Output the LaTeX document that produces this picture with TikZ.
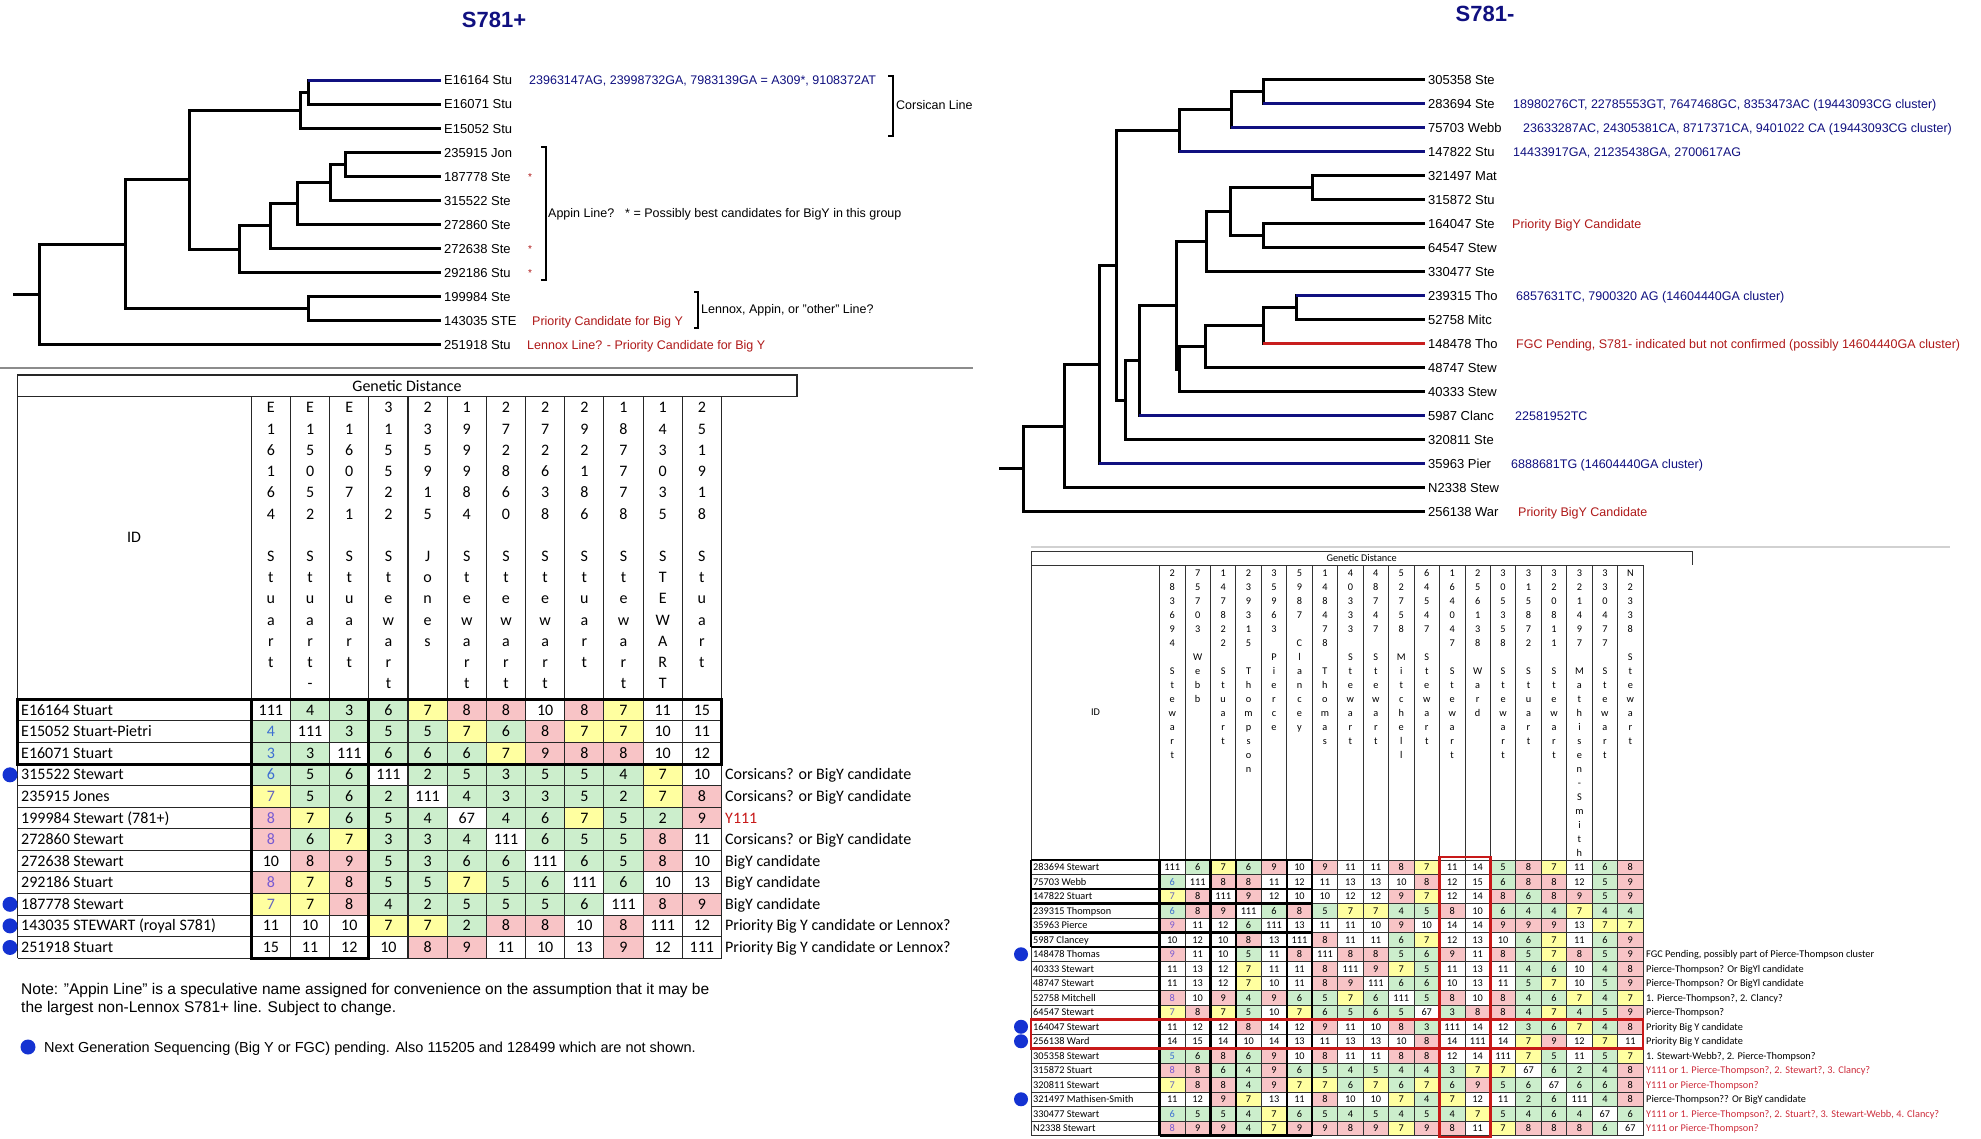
\documentclass[tikz,border=0pt]{standalone}
\usepackage{fontspec}
\setmainfont{Liberation Sans}
\newfontfamily\carl{Carlito}

\definecolor{navy}{RGB}{16,16,128}
\definecolor{treered}{RGB}{175,25,25}
\definecolor{branchred}{RGB}{200,30,30}
\definecolor{cw}{RGB}{255,255,255}
\definecolor{cg}{RGB}{204,238,204}
\definecolor{cy}{RGB}{255,255,160}
\definecolor{cp}{RGB}{248,196,198}
\definecolor{tcw}{RGB}{0,0,0}
\definecolor{tcg}{RGB}{60,110,210}
\definecolor{tcy}{RGB}{100,100,190}
\definecolor{tcp}{RGB}{120,90,210}
\definecolor{dotblue}{RGB}{20,50,210}
\definecolor{boxred}{RGB}{200,25,25}
\definecolor{notered}{RGB}{205,45,60}

\tikzset{
  br/.style={line width=3pt},
  brblue/.style={line width=3pt, draw=navy},
  brred/.style={line width=3pt, draw=branchred},
  leaf/.style={anchor=west, inner xsep=3pt, inner ysep=1pt, text height=9.3pt, text depth=0pt, font=\fontsize{13}{15}\selectfont},
  ann/.style={anchor=base west, inner sep=0pt, font=\fontsize{12.5}{15}\selectfont},
  titl/.style={font=\bfseries\fontsize{22}{26}\selectfont, text=navy},
  brk/.style={line width=1.3pt},
  ltxt/.style={anchor=base, inner sep=0pt, font=\carl\fontsize{16}{19}\selectfont},
  rtxt/.style={anchor=base, inner sep=0pt, font=\carl\fontsize{10.3}{12}\selectfont},
  grid/.style={line width=1.1pt, draw=black!85},
  rgrid/.style={line width=0.8pt, draw=black!80},
  thickl/.style={line width=3pt},
  thickr/.style={line width=2.4pt},
  redbox/.style={line width=2.4pt, draw=boxred},
  bdot/.style={circle, fill=dotblue, inner sep=0pt, minimum size=15pt},
  notetxt/.style={anchor=base west, inner sep=0pt, font=\fontsize{15.5}{18}\selectfont},
}

% left table row: #1 row, #2 label, #3 values
\newcommand\LRow[3]{%
  \node[ltxt,anchor=base west] at (21,{699.3+21.58*(#1+0.5)+5.1}) {#2};
  \foreach \v/\c [count=\j from 0] in {#3} {%
    \fill[\c] ({251.3+39.18*\j},{699.3+21.58*#1}) rectangle ++(39.18,21.58);
    \ifnum\j=0\relax\def\tc{t\c}\else\def\tc{black}\fi
    \node[ltxt,text=\tc] at ({251.3+39.18*(\j+0.5)},{699.3+21.58*(#1+0.5)+5.1}) {\v};
  }}
\newcommand\LHead[2]{%
  \foreach \ch [count=\k from 0] in {#2} {%
    \node[ltxt] at ({251.3+39.18*(#1+0.5)},{413+21.2*\k}) {\ch};
  }}
\newcommand\RRow[3]{%
  \node[rtxt,anchor=base west] at (1033,{867.25+14.5*#1+3.3}) {#2};
  \foreach \v/\c [count=\j from 0] in {#3} {%
    \fill[\c] ({1159.5+25.45*\j},{860+14.5*#1}) rectangle ++(25.45,14.5);
    \ifnum\j=0\relax\def\tc{t\c}\else\def\tc{black}\fi
    \node[rtxt,text=\tc] at ({1159.5+25.45*(\j+0.5)},{867.25+14.5*#1+3.3}) {\v};
  }}
\newcommand\RHead[2]{%
  \foreach \ch [count=\k from 0] in {#2} {%
    \node[rtxt] at ({1159.5+25.45*(#1+0.5)},{576+14*\k}) {\ch};
  }}

\begin{document}
\begin{tikzpicture}[x=1pt,y=-1pt]
\useasboundingbox[fill=white] (0,0) rectangle (1981,1139);

% ================= titles =================
\node[titl] (t1) at (494,20) {S781+};
\node[titl] (t2) at (1485,14) {S781-};

% ================= left tree =================
\node[leaf] (LL0) at (441,80.3) {E16164 Stu};
\node[leaf] (LL1) at (441,104.33) {E16071 Stu};
\node[leaf] (LL2) at (441,128.36) {E15052 Stu};
\node[leaf] (LL3) at (441,152.39) {235915 Jon};
\node[leaf] (LL4) at (441,176.42) {187778 Ste};
\node[leaf] (LL5) at (441,200.45) {315522 Ste};
\node[leaf] (LL6) at (441,224.48) {272860 Ste};
\node[leaf] (LL7) at (441,248.51) {272638 Ste};
\node[leaf] (LL8) at (441,272.54) {292186 Stu};
\node[leaf] (LL9) at (441,296.57) {199984 Ste};
\node[leaf] (LL10) at (441,320.6) {143035 STE};
\node[leaf] (LL11) at (441,344.63) {251918 Stu};

\coordinate (la) at (308,92.3);
\coordinate (lb) at (300,110.3);
\coordinate (lc) at (345,164.4);
\coordinate (ld) at (330,182.4);
\coordinate (le) at (297,203.4);
\coordinate (lf) at (270,226);
\coordinate (lg) at (239,249.3);
\coordinate (lh) at (189,179.8);
\coordinate (li) at (308,308.6);
\coordinate (lj) at (125,244.2);
\coordinate (lr) at (39,294.4);
\coordinate (l0) at (13,294.4);

\foreach \p/\c in {la/LL0,la/LL1,lb/la,lb/LL2,lc/LL3,lc/LL4,ld/lc,ld/LL5,le/ld,le/LL6,lf/le,lf/LL7,lg/lf,lg/LL8,lh/lb,lh/lg,li/LL9,li/LL10,lj/lh,lj/li,lr/lj,lr/LL11}
  \draw[br] (\p) |- (\c);
\draw[br] (l0) -- (lr);
\draw[brblue] (la |- LL0.west) -- (LL0.west);

\node[ann,text=navy] (n1) at (529,84.8) {23963147AG, 23998732GA, 7983139GA = A309*, 9108372AT};
\node[ann,text=treered] (n2) at (532,325.1) {Priority Candidate for Big Y};
\node[ann,text=treered] (n3) at (527,349.1) {Lennox Line? - Priority Candidate for Big Y};
\foreach \yy/\nm in {176.42/s1,248.51/s2,272.54/s3}
  \node[anchor=base, inner sep=0pt, text=treered, font=\fontsize{10}{12}\selectfont] (\nm) at (530,\yy+4) {*};

\draw[brk] (888,76) -- (893,76) -- (893,136) -- (888,136);
\node[ann] (corsica) at (896,109.5) {Corsican Line};
\draw[brk] (541,147) -- (546,147) -- (546,280) -- (541,280);
\node[ann] (appin) at (548,217.5) {Appin Line?\hspace{11pt}* = Possibly best candidates for BigY in this group};
\draw[brk] (694,292) -- (698,292) -- (698,328) -- (694,328);
\node[ann] (lennox) at (701,313.5) {Lennox, Appin, or "other" Line?};

\draw[line width=2pt, draw=black!45] (0,368) -- (973,368);

% ================= right tree =================
\node[leaf] (RL0) at (1425,79.7) {305358 Ste};
\node[leaf] (RL1) at (1425,103.7) {283694 Ste};
\node[leaf] (RL2) at (1425,127.7) {75703 Webb};
\node[leaf] (RL3) at (1425,151.7) {147822 Stu};
\node[leaf] (RL4) at (1425,175.7) {321497 Mat};
\node[leaf] (RL5) at (1425,199.7) {315872 Stu};
\node[leaf] (RL6) at (1425,223.7) {164047 Ste};
\node[leaf] (RL7) at (1425,247.7) {64547 Stew};
\node[leaf] (RL8) at (1425,271.7) {330477 Ste};
\node[leaf] (RL9) at (1425,295.7) {239315 Tho};
\node[leaf] (RL10) at (1425,319.7) {52758 Mitc};
\node[leaf] (RL11) at (1425,343.7) {148478 Tho};
\node[leaf] (RL12) at (1425,367.7) {48747 Stew};
\node[leaf] (RL13) at (1425,391.7) {40333 Stew};
\node[leaf] (RL14) at (1425,415.7) {5987 Clanc};
\node[leaf] (RL15) at (1425,439.7) {320811 Ste};
\node[leaf] (RL16) at (1425,463.7) {35963 Pier};
\node[leaf] (RL17) at (1425,487.7) {N2338 Stew};
\node[leaf] (RL18) at (1425,511.7) {256138 War};

\coordinate (ra) at (1263,91.7);
\coordinate (rb) at (1231,109.7);
\coordinate (rc) at (1179,130.7);
\coordinate (rd) at (1312,187.7);
\coordinate (re) at (1263,235.7);
\coordinate (rf) at (1230,211.7);
\coordinate (rg) at (1206,241.7);
\coordinate (rh) at (1296,307.7);
\coordinate (ri) at (1263,325.7);
\coordinate (rj) at (1205,346.7);
\coordinate (rk) at (1179,369.2);
\coordinate (rl) at (1176.7,305.45);
\coordinate (rm) at (1139,360.6);
\coordinate (rn) at (1125,400.1);
\coordinate (ro) at (1116.6,265.4);
\coordinate (rp) at (1099,364.55);
\coordinate (rq) at (1064,426.1);
\coordinate (rr) at (1023.5,468.9);
\coordinate (r0) at (999,468.9);

\foreach \p/\c in {ra/RL0,ra/RL1,rb/ra,rb/RL2,rc/rb,rc/RL3,rd/RL4,rd/RL5,re/RL6,re/RL7,rf/rd,rf/re,rg/rf,rg/RL8,rh/RL9,rh/RL10,ri/rh,ri/RL11,rj/ri,rj/RL12,rk/rj,rk/RL13,rl/rg,rl/rk,rm/rl,rm/RL14,rn/rm,rn/RL15,ro/rc,ro/rn,rp/ro,rp/RL16,rq/rp,rq/RL17,rr/rq,rr/RL18}
  \draw[br] (\p) |- (\c);
\draw[br] (r0) -- (rr);
\foreach \p/\c in {ra/RL1,rb/RL2,rc/RL3,rh/RL9,rm/RL14,rp/RL16}
  \draw[brblue] (\p |- \c.west) -- (\c.west);
\draw[brred] (ri |- RL11.west) -- (RL11.west);

\node[ann,text=navy] (m1) at (1513,108.2) {18980276CT, 22785553GT, 7647468GC, 8353473AC (19443093CG cluster)};
\node[ann,text=navy] (m2) at (1523,132.2) {23633287AC, 24305381CA, 8717371CA, 9401022 CA (19443093CG cluster)};
\node[ann,text=navy] (m3) at (1513,156.2) {14433917GA, 21235438GA, 2700617AG};
\node[ann,text=treered] (m4) at (1512,228.2) {Priority BigY Candidate};
\node[ann,text=navy] (m5) at (1516,300.2) {6857631TC, 7900320 AG (14604440GA cluster)};
\node[ann,text=treered] (m6) at (1516,348.2) {FGC Pending, S781- indicated but not confirmed (possibly 14604440GA cluster)};
\node[ann,text=navy] (m7) at (1515,420.2) {22581952TC};
\node[ann,text=navy] (m8) at (1511,468.2) {6888681TG (14604440GA cluster)};
\node[ann,text=treered] (m9) at (1518,516.2) {Priority BigY Candidate};

\draw[line width=2pt, draw=black!18] (1031,546.5) -- (1950,546.5);

% ================= left table =================
\node[ltxt,anchor=center] (lgd) at (407,386) {Genetic Distance};
\node[ltxt,anchor=center] (lid) at (134,537) {ID};
\LHead{0}{E,1,6,1,6,4,{},S,t,u,a,r,t}
\LHead{1}{E,1,5,0,5,2,{},S,t,u,a,r,t,-}
\LHead{2}{E,1,6,0,7,1,{},S,t,u,a,r,t}
\LHead{3}{3,1,5,5,2,2,{},S,t,e,w,a,r,t}
\LHead{4}{2,3,5,9,1,5,{},J,o,n,e,s}
\LHead{5}{1,9,9,9,8,4,{},S,t,e,w,a,r,t}
\LHead{6}{2,7,2,8,6,0,{},S,t,e,w,a,r,t}
\LHead{7}{2,7,2,6,3,8,{},S,t,e,w,a,r,t}
\LHead{8}{2,9,2,1,8,6,{},S,t,u,a,r,t}
\LHead{9}{1,8,7,7,7,8,{},S,t,e,w,a,r,t}
\LHead{10}{1,4,3,0,3,5,{},S,T,E,W,A,R,T}
\LHead{11}{2,5,1,9,1,8,{},S,t,u,a,r,t}

\LRow{0}{E16164 Stuart}{111/cw,4/cg,3/cg,6/cg,7/cy,8/cp,8/cp,10/cw,8/cp,7/cy,11/cw,15/cw}
\LRow{1}{E15052 Stuart-Pietri}{4/cg,111/cw,3/cg,5/cg,5/cg,7/cy,6/cg,8/cp,7/cy,7/cy,10/cw,11/cw}
\LRow{2}{E16071 Stuart}{3/cg,3/cg,111/cw,6/cg,6/cg,6/cg,7/cy,9/cp,8/cp,8/cp,10/cw,12/cw}
\LRow{3}{315522 Stewart}{6/cg,5/cg,6/cg,111/cw,2/cg,5/cg,3/cg,5/cg,5/cg,4/cg,7/cy,10/cw}
\LRow{4}{235915 Jones}{7/cy,5/cg,6/cg,2/cg,111/cw,4/cg,3/cg,3/cg,5/cg,2/cg,7/cy,8/cp}
\LRow{5}{199984 Stewart (781+)}{8/cp,7/cy,6/cg,5/cg,4/cg,67/cw,4/cg,6/cg,7/cy,5/cg,2/cg,9/cp}
\LRow{6}{272860 Stewart}{8/cp,6/cg,7/cy,3/cg,3/cg,4/cg,111/cw,6/cg,5/cg,5/cg,8/cp,11/cw}
\LRow{7}{272638 Stewart}{10/cw,8/cp,9/cp,5/cg,3/cg,6/cg,6/cg,111/cw,6/cg,5/cg,8/cp,10/cw}
\LRow{8}{292186 Stuart}{8/cp,7/cy,8/cp,5/cg,5/cg,7/cy,5/cg,6/cg,111/cw,6/cg,10/cw,13/cw}
\LRow{9}{187778 Stewart}{7/cy,7/cy,8/cp,4/cg,2/cg,5/cg,5/cg,5/cg,6/cg,111/cw,8/cp,9/cp}
\LRow{10}{143035 STEWART (royal S781)}{11/cw,10/cw,10/cw,7/cy,7/cy,2/cg,8/cp,8/cp,10/cw,8/cp,111/cw,12/cw}
\LRow{11}{251918 Stuart}{15/cw,11/cw,12/cw,10/cw,8/cp,9/cp,11/cw,10/cw,13/cw,9/cp,12/cw,111/cw}

\foreach \r in {0,...,12} \draw[grid] (17.7,{699.3+21.58*\r}) -- (721.5,{699.3+21.58*\r});
\foreach \j in {0,...,12} \draw[grid] ({251.3+39.18*\j},396.7) -- ({251.3+39.18*\j},958.3);
\draw[grid] (17.7,375) -- (17.7,958.3);
\draw[grid] (17.7,375) rectangle (797,396.7);
\draw[thickl] (17.7,699.3) rectangle (721.5,764.04);
\draw[thickl] (251.3,699.3) rectangle (368.84,958.3);

\foreach \r/\t in {3/{Corsicans? or BigY candidate},4/{Corsicans? or BigY candidate},6/{Corsicans? or BigY candidate},7/{BigY candidate},8/{BigY candidate},9/{BigY candidate},10/{Priority Big Y candidate or Lennox?},11/{Priority Big Y candidate or Lennox?}}
  \node[ltxt,anchor=base west] at (725,{699.3+21.58*(\r+0.5)+5.1}) {\t};
\node[ltxt,anchor=base west,text=boxred] (y111) at (725,{699.3+21.58*5.5+5.1}) {Y111};

\foreach \r/\nm in {3/ld1,9/ld2,10/ld3,11/ld4}
  \node[bdot] (\nm) at (10,{699.3+21.58*(\r+0.5)}) {};

\node[notetxt] (note1) at (21,994.5) {Note: "Appin Line" is a speculative name assigned for convenience on the assumption that it may be};
\node[notetxt] (note2) at (21,1012.5) {the largest non-Lennox S781+ line. Subject to change.};
\node[bdot] (legdot) at (28,1047) {};
\node[notetxt,font=\fontsize{14.5}{17}\selectfont] (legend) at (44,1052) {Next Generation Sequencing (Big Y or FGC) pending. Also 115205 and 128499 which are not shown.};

% ================= right table =================
\node[rtxt,anchor=center] (rgd) at (1361.7,558) {Genetic Distance};
\node[rtxt,anchor=center] (rid) at (1095.6,711.7) {ID};
\RHead{0}{2,8,3,6,9,4,{},S,t,e,w,a,r,t}
\RHead{1}{7,5,7,0,3,{},W,e,b,b}
\RHead{2}{1,4,7,8,2,2,{},S,t,u,a,r,t}
\RHead{3}{2,3,9,3,1,5,{},T,h,o,m,p,s,o,n}
\RHead{4}{3,5,9,6,3,{},P,i,e,r,c,e}
\RHead{5}{5,9,8,7,{},C,l,a,n,c,e,y}
\RHead{6}{1,4,8,4,7,8,{},T,h,o,m,a,s}
\RHead{7}{4,0,3,3,3,{},S,t,e,w,a,r,t}
\RHead{8}{4,8,7,4,7,{},S,t,e,w,a,r,t}
\RHead{9}{5,2,7,5,8,{},M,i,t,c,h,e,l,l}
\RHead{10}{6,4,5,4,7,{},S,t,e,w,a,r,t}
\RHead{11}{1,6,4,0,4,7,{},S,t,e,w,a,r,t}
\RHead{12}{2,5,6,1,3,8,{},W,a,r,d}
\RHead{13}{3,0,5,3,5,8,{},S,t,e,w,a,r,t}
\RHead{14}{3,1,5,8,7,2,{},S,t,u,a,r,t}
\RHead{15}{3,2,0,8,1,1,{},S,t,e,w,a,r,t}
\RHead{16}{3,2,1,4,9,7,{},M,a,t,h,i,s,e,n,-,S,m,i,t,h}
\RHead{17}{3,3,0,4,7,7,{},S,t,e,w,a,r,t}
\RHead{18}{N,2,3,3,8,{},S,t,e,w,a,r,t}

\RRow{0}{283694 Stewart}{111/cw,6/cg,7/cy,6/cg,9/cp,10/cw,9/cp,11/cw,11/cw,8/cp,7/cy,11/cw,14/cw,5/cg,8/cp,7/cy,11/cw,6/cg,8/cp}
\RRow{1}{75703 Webb}{6/cg,111/cw,8/cp,8/cp,11/cw,12/cw,11/cw,13/cw,13/cw,10/cw,8/cp,12/cw,15/cw,6/cg,8/cp,8/cp,12/cw,5/cg,9/cp}
\RRow{2}{147822 Stuart}{7/cy,8/cp,111/cw,9/cp,12/cw,10/cw,10/cw,12/cw,12/cw,9/cp,7/cy,12/cw,14/cw,8/cp,6/cg,8/cp,9/cp,5/cg,9/cp}
\RRow{3}{239315 Thompson}{6/cg,8/cp,9/cp,111/cw,6/cg,8/cp,5/cg,7/cy,7/cy,4/cg,5/cg,8/cp,10/cw,6/cg,4/cg,4/cg,7/cy,4/cg,4/cg}
\RRow{4}{35963 Pierce}{9/cp,11/cw,12/cw,6/cg,111/cw,13/cw,11/cw,11/cw,10/cw,9/cp,10/cw,14/cw,14/cw,9/cp,9/cp,9/cp,13/cw,7/cy,7/cy}
\RRow{5}{5987 Clancey}{10/cw,12/cw,10/cw,8/cp,13/cw,111/cw,8/cp,11/cw,11/cw,6/cg,7/cy,12/cw,13/cw,10/cw,6/cg,7/cy,11/cw,6/cg,9/cp}
\RRow{6}{148478 Thomas}{9/cp,11/cw,10/cw,5/cg,11/cw,8/cp,111/cw,8/cp,8/cp,5/cg,6/cg,9/cp,11/cw,8/cp,5/cg,7/cy,8/cp,5/cg,9/cp}
\RRow{7}{40333 Stewart}{11/cw,13/cw,12/cw,7/cy,11/cw,11/cw,8/cp,111/cw,9/cp,7/cy,5/cg,11/cw,13/cw,11/cw,4/cg,6/cg,10/cw,4/cg,8/cp}
\RRow{8}{48747 Stewart}{11/cw,13/cw,12/cw,7/cy,10/cw,11/cw,8/cp,9/cp,111/cw,6/cg,6/cg,10/cw,13/cw,11/cw,5/cg,7/cy,10/cw,5/cg,9/cp}
\RRow{9}{52758 Mitchell}{8/cp,10/cw,9/cp,4/cg,9/cp,6/cg,5/cg,7/cy,6/cg,111/cw,5/cg,8/cp,10/cw,8/cp,4/cg,6/cg,7/cy,4/cg,7/cy}
\RRow{10}{64547 Stewart}{7/cy,8/cp,7/cy,5/cg,10/cw,7/cy,6/cg,5/cg,6/cg,5/cg,67/cw,3/cg,8/cp,8/cp,4/cg,7/cy,4/cg,5/cg,9/cp}
\RRow{11}{164047 Stewart}{11/cw,12/cw,12/cw,8/cp,14/cw,12/cw,9/cp,11/cw,10/cw,8/cp,3/cg,111/cw,14/cw,12/cw,3/cg,6/cg,7/cy,4/cg,8/cp}
\RRow{12}{256138 Ward}{14/cw,15/cw,14/cw,10/cw,14/cw,13/cw,11/cw,13/cw,13/cw,10/cw,8/cp,14/cw,111/cw,14/cw,7/cy,9/cp,12/cw,7/cy,11/cw}
\RRow{13}{305358 Stewart}{5/cg,6/cg,8/cp,6/cg,9/cp,10/cw,8/cp,11/cw,11/cw,8/cp,8/cp,12/cw,14/cw,111/cw,7/cy,5/cg,11/cw,5/cg,7/cy}
\RRow{14}{315872 Stuart}{8/cp,8/cp,6/cg,4/cg,9/cp,6/cg,5/cg,4/cg,5/cg,4/cg,4/cg,3/cg,7/cy,7/cy,67/cw,6/cg,2/cg,4/cg,8/cp}
\RRow{15}{320811 Stewart}{7/cy,8/cp,8/cp,4/cg,9/cp,7/cy,7/cy,6/cg,7/cy,6/cg,7/cy,6/cg,9/cp,5/cg,6/cg,67/cw,6/cg,6/cg,8/cp}
\RRow{16}{321497 Mathisen-Smith}{11/cw,12/cw,9/cp,7/cy,13/cw,11/cw,8/cp,10/cw,10/cw,7/cy,4/cg,7/cy,12/cw,11/cw,2/cg,6/cg,111/cw,4/cg,8/cp}
\RRow{17}{330477 Stewart}{6/cg,5/cg,5/cg,4/cg,7/cy,6/cg,5/cg,4/cg,5/cg,4/cg,5/cg,4/cg,7/cy,5/cg,4/cg,6/cg,4/cg,67/cw,6/cg}
\RRow{18}{N2338 Stewart}{8/cp,9/cp,9/cp,4/cg,7/cy,9/cp,9/cp,8/cp,9/cp,7/cy,9/cp,8/cp,11/cw,7/cy,8/cp,8/cp,8/cp,6/cg,67/cw}

\foreach \r in {0,...,19} \draw[rgrid] (1031,{860+14.5*\r}) -- (1643,{860+14.5*\r});
\foreach \j in {0,...,19} \draw[rgrid] ({1159.5+25.45*\j},565) -- ({1159.5+25.45*\j},1135.5);
\draw[rgrid] (1031,1135.5) -- (1031,551) -- (1692,551) -- (1692,565);
\draw[rgrid] (1031,565) -- (1643,565);
\foreach \j in {0,2,3,5,6} \draw[thickr] ({1159.5+25.45*\j},860) -- ({1159.5+25.45*\j},1135.5);
\foreach \r in {0,2,3,5,6} \draw[thickr] (1031,{860+14.5*\r}) -- (1312.2,{860+14.5*\r});
\draw[thickr] (1031,860) -- (1031,947);
\draw[thickr] (1159.5,1135.5) -- (1312.2,1135.5);
\draw[redbox] (1439.5,857) rectangle (1490.4,1137);
\draw[redbox] (1031,1019.5) rectangle (1643,1048.5);

\foreach \r/\t in {6/{FGC Pending, possibly part of Pierce-Thompson cluster},7/{Pierce-Thompson? Or BigYl candidate},8/{Pierce-Thompson? Or BigYl candidate},9/{1. Pierce-Thompson?, 2. Clancy?},10/{Pierce-Thompson?},11/{Priority Big Y candidate},12/{Priority Big Y candidate},13/{1. Stewart-Webb?, 2. Pierce-Thompson?},16/{Pierce-Thompson?? Or BigY candidate}}
  \node[rtxt,anchor=base west] at (1646,{867.25+14.5*\r+3.3}) {\t};
\foreach \r/\t in {14/{Y111 or 1. Pierce-Thompson?, 2. Stewart?, 3. Clancy?},15/{Y111 or Pierce-Thompson?},17/{Y111 or 1. Pierce-Thompson?, 2. Stuart?, 3. Stewart-Webb, 4. Clancy?},18/{Y111 or Pierce-Thompson?}}
  \node[rtxt,anchor=base west,text=notered] at (1646,{867.25+14.5*\r+3.3}) {\t};

\foreach \r/\nm in {6/rd1,11/rd2,12/rd3,16/rd4}
  \node[bdot,minimum size=14pt] (\nm) at (1021,{867.25+14.5*\r}) {};

\end{tikzpicture}
\end{document}
